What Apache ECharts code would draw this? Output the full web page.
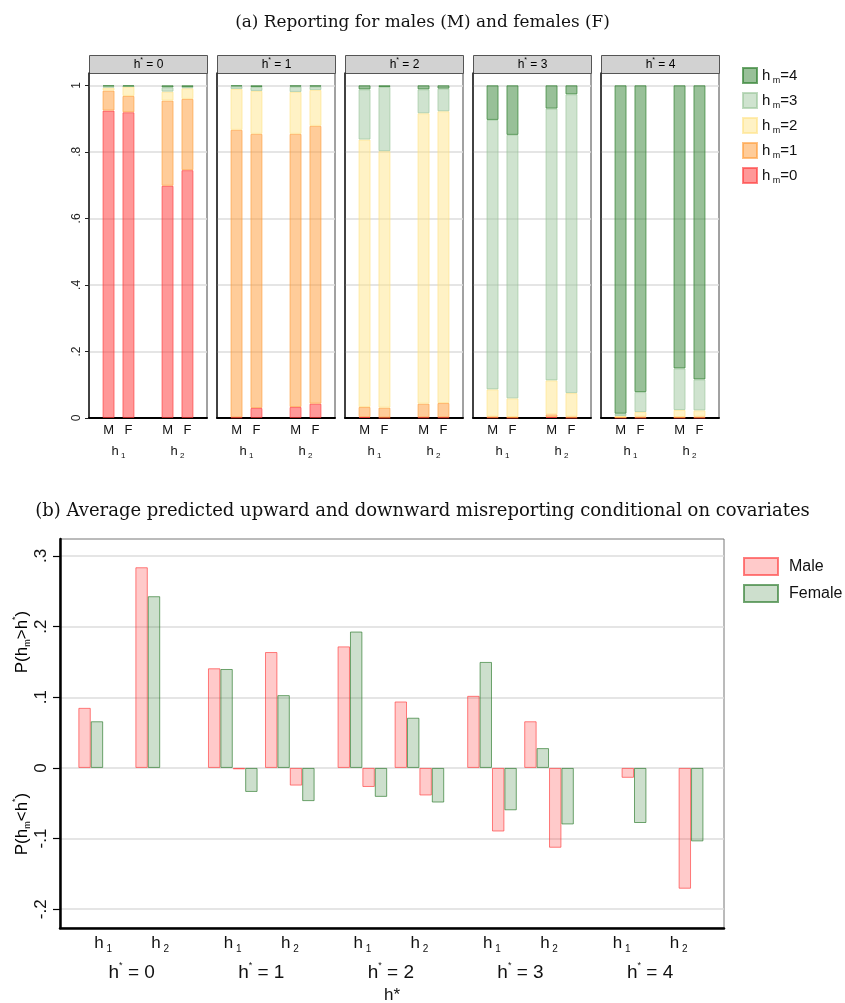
<!DOCTYPE html>
<html>
<head>
<meta charset="utf-8">
<script src="https://cdn.jsdelivr.net/npm/echarts@6/dist/echarts.min.js"></script>
<style>
  html, body { margin: 0; padding: 0; background: #fff; }
  #chart { width: 845px; height: 1003px; }
</style>
</head>
<body>
<div id="chart"></div>
<script>
// ---- Panel (a): share of reported health h_m by true health h* ----
// order of every array: h*=0 h1, h*=0 h2, h*=1 h1, h*=1 h2, ... h*=4 h2
const hstarLevels = [0, 1, 2, 3, 4];
const measures = ['h1', 'h2'];
const levelNames = ['h_m=0', 'h_m=1', 'h_m=2', 'h_m=3', 'h_m=4'];
const shareTicks = [0, 0.2, 0.4, 0.6, 0.8, 1];
const diffTicks = [-0.2, -0.1, 0, 0.1, 0.2, 0.3];

const maleL0 = [0.924, 0.698, 0.002, 0.033, 0.003, 0.002, 0.002, 0.003, 0.001, 0.001];
const maleL1 = [0.060, 0.256, 0.864, 0.821, 0.030, 0.041, 0.002, 0.008, 0.001, 0.002];
const maleL2 = [0.009, 0.027, 0.123, 0.126, 0.804, 0.873, 0.082, 0.102, 0.004, 0.021];
const maleL3 = [0.004, 0.013, 0.008, 0.016, 0.151, 0.072, 0.810, 0.817, 0.007, 0.125];
const maleL4 = [0.003, 0.006, 0.003, 0.004, 0.012, 0.012, 0.104, 0.070, 0.987, 0.851];

const femaleL0 = [0.919, 0.745, 0.030, 0.043, 0.001, 0.002, 0.001, 0.001, 0.001, 0.001];
const femaleL1 = [0.049, 0.214, 0.824, 0.835, 0.030, 0.043, 0.002, 0.003, 0.003, 0.003];
const femaleL2 = [0.028, 0.032, 0.129, 0.108, 0.771, 0.877, 0.056, 0.071, 0.014, 0.019];
const femaleL3 = [0.001, 0.004, 0.012, 0.010, 0.193, 0.068, 0.792, 0.898, 0.060, 0.093];
const femaleL4 = [0.003, 0.005, 0.005, 0.004, 0.005, 0.010, 0.149, 0.027, 0.922, 0.884];

// ---- Panel (b): average predicted upward / downward misreporting ----
const maleUp     = [0.085, 0.284, 0.141, 0.164, 0.172, 0.094, 0.102, 0.066, null, null];
const femaleUp   = [0.066, 0.243, 0.140, 0.103, 0.193, 0.071, 0.150, 0.028, null, null];
const maleDown   = [null, null, -0.002, -0.025, -0.027, -0.039, -0.090, -0.113, -0.014, -0.171];
const femaleDown = [null, null, -0.034, -0.047, -0.041, -0.049, -0.060, -0.080, -0.078, -0.104];

// ---- styling ----
const SANS = 'Liberation Sans, Arial, Helvetica, sans-serif';
const SERIF = 'DejaVu Serif, Liberation Serif, serif';
const levelFill = [
  'rgba(255,50,50,0.5)', 'rgba(255,153,51,0.5)', 'rgba(255,230,140,0.5)',
  'rgba(160,200,160,0.5)', 'rgba(50,130,50,0.5)'
];
const levelEdge = [
  'rgba(255,50,50,0.6)', 'rgba(255,153,51,0.6)', 'rgba(255,225,130,0.6)',
  'rgba(150,195,150,0.6)', 'rgba(50,130,50,0.7)'
];
const maleFill = 'rgba(255,60,60,0.27)', maleEdge = 'rgba(255,60,60,0.65)';
const femaleFill = 'rgba(60,130,60,0.26)', femaleEdge = 'rgba(40,120,40,0.65)';

// rich-text styles: b = base text, s = subscript, p = superscript
function richSet(big, small) {
  return {
    b: { fontSize: big, lineHeight: big + 4, fontFamily: SANS, color: '#111', verticalAlign: 'middle' },
    s: { fontSize: small, lineHeight: small + 1, fontFamily: SANS, color: '#111', verticalAlign: 'bottom' },
    p: { fontSize: small, lineHeight: small + 1, fontFamily: SANS, color: '#111', verticalAlign: 'top' }
  };
}

const maleLevels = [maleL0, maleL1, maleL2, maleL3, maleL4];
const femaleLevels = [femaleL0, femaleL1, femaleL2, femaleL3, femaleL4];

const PANEL_TOP = 73, PANEL_H = 345, PANEL_W = 118;
const panelLeft = i => 89 + 128 * i;

const grid = [], xAxis = [], yAxis = [], series = [], graphic = [];

function tickFmt(v) {
  const r = Math.round(v * 10) / 10;
  if (Math.abs(v - r) > 1e-6) return '';
  if (r === 0) return '0';
  if (r === 1) return '1';
  return r.toFixed(1).replace('0.', '.');
}

hstarLevels.forEach((h, p) => {
  grid.push({
    left: panelLeft(p), top: PANEL_TOP, width: PANEL_W, height: PANEL_H,
    outerBoundsMode: 'none',
    show: true, borderColor: '#444', borderWidth: 1
  });
  xAxis.push({
    type: 'category', gridIndex: p, data: measures,
    axisLine: { show: true, lineStyle: { color: '#000', width: 2 } },
    axisTick: { show: false },
    axisLabel: {
      margin: 25, interval: 0,
      formatter: v => '{b|h}{s| ' + v.slice(1) + '}',
      rich: richSet(13, 8)
    }
  });
  yAxis.push({
    type: 'value', gridIndex: p, min: 0, max: 1.037, interval: 0.2,
    axisLine: { show: true, lineStyle: { color: '#222', width: 1.5 } },
    axisTick: { show: p === 0, length: 4, customValues: shareTicks, lineStyle: { color: '#222' } },
    axisLabel: {
      show: p === 0, rotate: 90, margin: 6, fontSize: 12, fontFamily: SANS, color: '#222',
      customValues: shareTicks, formatter: tickFmt
    },
    splitLine: { show: true, lineStyle: { color: '#dcdcdc', width: 1.5 } }
  });
  // strip header
  graphic.push({
    type: 'group', left: panelLeft(p), top: 55,
    children: [
      { type: 'rect', shape: { x: 0, y: 0, width: PANEL_W, height: 18 },
        style: { fill: '#d2d2d2', stroke: '#555', lineWidth: 1 } },
      { type: 'text', x: PANEL_W / 2, y: 9,
        style: { text: '{b|h}{p|*}{b| = ' + h + '}', rich: richSet(12, 7),
                 align: 'center', verticalAlign: 'middle' } }
    ]
  });
  ['M', 'F'].forEach(sex => {
    const levels = sex === 'M' ? maleLevels : femaleLevels;
    levels.forEach((arr, l) => {
      series.push({
        type: 'bar', name: levelNames[l], xAxisIndex: p, yAxisIndex: p,
        stack: 'p' + p + sex, barWidth: 12, barGap: '66%',
        data: [arr[2 * p], arr[2 * p + 1]],
        itemStyle: { color: levelFill[l], borderColor: levelEdge[l], borderWidth: 1 },
        label: l === 0 ? {
          show: true, position: 'bottom', distance: 6, formatter: sex,
          fontSize: 13, fontFamily: SANS, color: '#111'
        } : { show: false },
        emphasis: { disabled: true },
        animation: false
      });
    });
  });
});

// ---- panel (b) axes ----
const xPos = [];
hstarLevels.forEach(g => { xPos.push(g - 0.22, g + 0.22); });
const B = 5;
grid.push({
  left: 60, top: 539, width: 664, height: 389, outerBoundsMode: 'none',
  show: true, borderColor: '#777', borderWidth: 1
});
xAxis.push({
  type: 'value', gridIndex: B, min: -0.553, max: 4.57,
  axisLine: { show: true, onZero: false, lineStyle: { color: '#000', width: 2.5 } },
  axisTick: { show: false },
  splitLine: { show: false },
  axisLabel: {
    customValues: xPos, margin: 5,
    formatter: v => {
      const i = xPos.findIndex(x => Math.abs(x - v) < 1e-6);
      return '{b|h}{s| ' + (i % 2 + 1) + '}';
    },
    rich: richSet(17, 10)
  }
});
xAxis.push({
  type: 'value', gridIndex: B, min: -0.553, max: 4.57, position: 'bottom', offset: 27,
  axisLine: { show: false }, axisTick: { show: false }, splitLine: { show: false },
  axisLabel: {
    customValues: hstarLevels, margin: 6,
    formatter: v => '{b|h}{p|*}{b| = ' + Math.round(v) + '}',
    rich: richSet(19, 9)
  },
  name: 'h*', nameLocation: 'middle', nameGap: 32,
  nameTextStyle: { fontSize: 17, fontFamily: SANS, color: '#111' }
});
yAxis.push({
  type: 'value', gridIndex: B, min: -0.2266, max: 0.324, splitNumber: 5,
  axisLine: { show: true, onZero: false, lineStyle: { color: '#000', width: 2.5 } },
  axisTick: { show: true, length: 7, customValues: diffTicks, lineStyle: { color: '#000', width: 1.2 } },
  axisLabel: { rotate: 90, margin: 10, fontSize: 17, fontFamily: SANS, color: '#111',
               customValues: diffTicks, formatter: tickFmt },
  splitLine: { show: true, lineStyle: { color: '#dcdcdc', width: 1.5 } }
});

const bSeries = [
  ['Male', maleUp, maleFill, maleEdge],
  ['Female', femaleUp, femaleFill, femaleEdge],
  ['Male', maleDown, maleFill, maleEdge],
  ['Female', femaleDown, femaleFill, femaleEdge]
];
bSeries.forEach(([name, vals, fill, edge]) => {
  series.push({
    type: 'bar', name, xAxisIndex: 5, yAxisIndex: B,
    barWidth: 12.4, barGap: '0%',
    data: xPos.map((x, i) => [x, vals[i]]),
    itemStyle: { color: fill, borderColor: edge, borderWidth: 1 },
    emphasis: { disabled: true },
    animation: false
  });
});

// y-axis titles of panel (b)
graphic.push(
  { type: 'text', x: 22, y: 642, rotation: Math.PI / 2,
    style: { text: '{b|P(h}{s|m}{b|>h}{p|*}{b|)}', rich: richSet(17, 9), align: 'center', verticalAlign: 'middle' } },
  { type: 'text', x: 22, y: 824, rotation: Math.PI / 2,
    style: { text: '{b|P(h}{s|m}{b|<h}{p|*}{b|)}', rich: richSet(17, 9), align: 'center', verticalAlign: 'middle' } }
);

const option = {
  backgroundColor: '#fff',
  animation: false,
  title: [
    { text: '(a) Reporting for males (M) and females (F)', left: 'center', top: 9,
      textStyle: { fontFamily: SERIF, fontSize: 16.9, fontWeight: 'normal', color: '#111' } },
    { text: '(b) Average predicted upward and downward misreporting conditional on covariates', left: 'center', top: 497,
      textStyle: { fontFamily: SERIF, fontSize: 18, fontWeight: 'normal', color: '#111' } }
  ],
  legend: [
    { orient: 'vertical', left: 737, top: 62, itemWidth: 14, itemHeight: 15, itemGap: 7, icon: 'rect',
      data: ['h_m=4', 'h_m=3', 'h_m=2', 'h_m=1', 'h_m=0'],
      formatter: n => '{b|h}{s| m}{b|=' + n.slice(-1) + '}',
      textStyle: { rich: richSet(15, 9) }, selectedMode: false },
    { orient: 'vertical', left: 738, top: 552, itemWidth: 34, itemHeight: 17, itemGap: 8, icon: 'rect',
      data: ['Male', 'Female'],
      textStyle: { fontSize: 16, fontFamily: SANS, color: '#111', padding: [0, 0, 0, 6] }, selectedMode: false }
  ],
  grid, xAxis, yAxis, series, graphic
};

const chart = echarts.init(document.getElementById('chart'), null, { renderer: 'canvas' });
chart.setOption(option);
</script>
</body>
</html>
